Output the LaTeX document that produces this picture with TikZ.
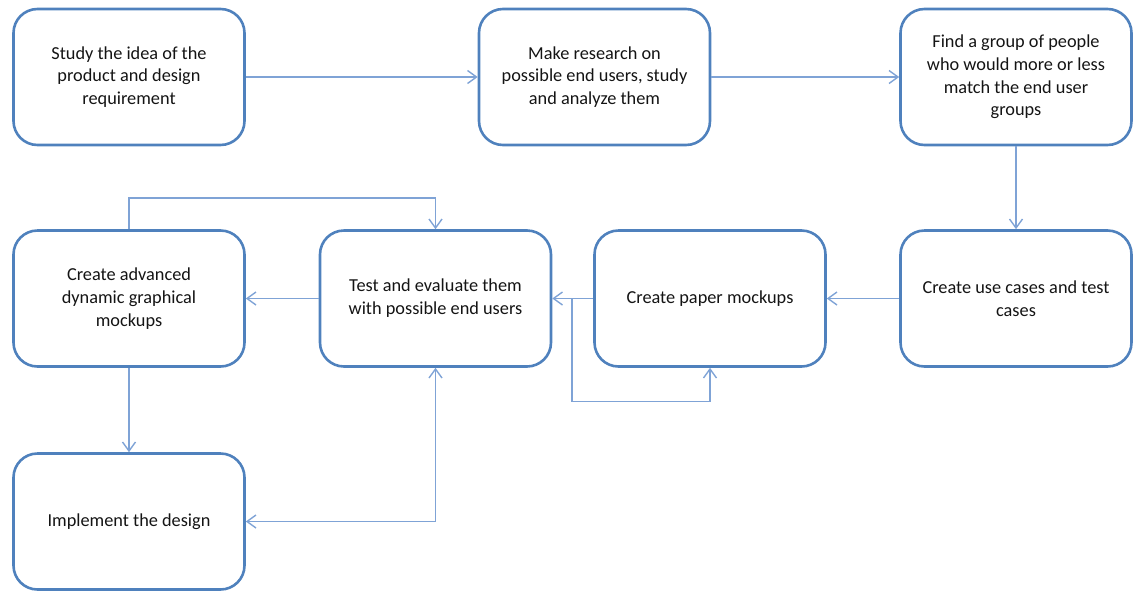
\documentclass[tikz,border=0pt]{standalone}
\usepackage{fontspec}
\setmainfont{Carlito}
\usetikzlibrary{arrows.meta}
\definecolor{boxblue}{HTML}{4F81BD}
\definecolor{linkblue}{HTML}{7FA3D6}
\definecolor{ink}{HTML}{141414}
\tikzset{
  stepbox/.style={draw=boxblue, line width=2.6pt, rounded corners=24pt,
    minimum width=231pt, minimum height=136pt, align=center,
    text=ink, font=\fontsize{18.3}{22.8}\selectfont, inner sep=0pt},
  conn/.style={draw=linkblue, line width=1.4pt,
    arrows={-Straight Barb[length=9pt,width=13pt,line width=1.4pt]}},
  conn2/.style={draw=linkblue, line width=1.4pt,
    arrows={Straight Barb[length=9pt,width=13pt,line width=1.4pt]-Straight Barb[length=9pt,width=13pt,line width=1.4pt]}}
}
\begin{document}
\begin{tikzpicture}[x=1pt,y=-1pt]
\useasboundingbox (0,0) rectangle (1133,590);

% first row
\node[stepbox] (b1) at (129,77) {Study the idea of the\\product and design\\requirement};
\node[stepbox] (b2) at (594.5,77) {Make research on\\possible end users, study\\and analyze them};
\node[stepbox] (b3) at (1016,77) {Find a group of people\\who would more or less\\match the end user\\groups};

% second row
\node[stepbox] (b4) at (129,298.5) {Create advanced\\dynamic graphical\\mockups};
\node[stepbox] (b5) at (435.5,298.5) {Test and evaluate them\\with possible end users};
\node[stepbox] (b6) at (710,298.5) {Create paper mockups};
\node[stepbox] (b7) at (1016,298.5) {Create use cases and test\\cases};

% third row, running off the lower edge
\node[stepbox] (b8) at (129,521.5) {Implement the design};

% helper points for the loops
\coordinate (top) at (435.5,198);
\coordinate (jn) at (572,298.5);
\coordinate (low) at (710,401.5);

% main flow
\draw[conn] (b1) -- (b2);
\draw[conn] (b2) -- (b3);
\draw[conn] (b3) -- (b7);
\draw[conn] (b7) -- (b6);
\draw[conn] (b6) -- (b5);
\draw[conn] (b5) -- (b4);
\draw[conn] (b4) -- (b8);

% feedback loops
\draw[conn] (b4.north) |- (top) -- (b5.north);
\draw[conn] (jn) |- (low) -- (b6.south);
\draw[conn2] (b8.east) -| (b5.south);
\end{tikzpicture}
\end{document}
